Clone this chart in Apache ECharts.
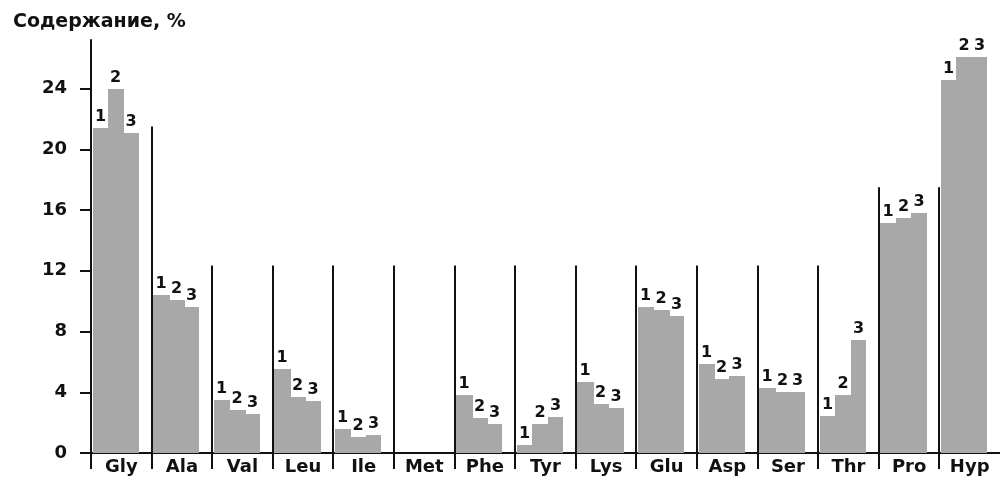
<!DOCTYPE html>
<html><head><meta charset="utf-8">
<script src="https://cdn.jsdelivr.net/npm/echarts@6/dist/echarts.min.js"></script>
<style>html,body{margin:0;padding:0;background:#fff}#c{width:1000px;height:482px}</style>
</head><body><div id="c"></div>
<script>
const categories = ['Gly','Ala','Val','Leu','Ile','Met','Phe','Tyr','Lys','Glu','Asp','Ser','Thr','Pro','Hyp'];
const sample1 = [21.4, 10.4, 3.5, 5.5, 1.6, null, 3.8, 0.5, 4.7, 9.6, 5.85, 4.3, 2.45, 15.15, 24.55];
const sample2 = [24.0, 10.1, 2.8, 3.7, 1.05, null, 2.3, 1.9, 3.25, 9.4, 4.85, 4.0, 3.8, 15.5, 26.05];
const sample3 = [21.1, 9.6, 2.55, 3.45, 1.2, null, 1.9, 2.4, 2.95, 9.05, 5.05, 4.0, 7.45, 15.8, 26.05];
const sampleLabels = ['1', '2', '3'];
const dividerTops = [27.2, 21.5, 12.35, 12.35, 12.35, 12.35, 12.35, 12.35, 12.35, 12.35, 12.35, 12.35, 12.35, 17.5, 17.5];
const yTicks = [0, 4, 8, 12, 16, 20, 24];
const yTitle = 'Содержание, %';

const FONT = '"DejaVu Sans", "Liberation Sans", sans-serif';
const INK = '#111';
const BAR = '#a8a8a8';

function barSeries(k, data) {
  return {
    type: 'custom',
    z: 2,
    data: data.map((v, i) => [i, v == null ? '-' : v]),
    encode: { x: 0, y: 1 },
    renderItem(params, api) {
      const i = api.value(0), v = api.value(1);
      if (v == null || isNaN(v)) return;
      const cellW = api.size([1, 0])[0];
      const top = api.coord([i, v]);
      const base = api.coord([i, 0]);
      const bw = cellW * 0.255;
      const xl = Math.round(top[0] - cellW / 2 + 1.5 + k * bw);
      const xr = Math.round(top[0] - cellW / 2 + 1.5 + (k + 1) * bw);
      const yt = Math.round(top[1]);
      return {
        type: 'group',
        children: [
          { type: 'rect', shape: { x: xl, y: yt, width: xr - xl + (k < 2 ? 1 : 0), height: base[1] - yt },
            style: { fill: BAR } },
          { type: 'text', x: (xl + xr) / 2, y: yt - 3,
            style: { text: sampleLabels[k], textAlign: 'center', textVerticalAlign: 'bottom',
              align: 'center', verticalAlign: 'bottom',
              fontFamily: FONT, fontWeight: 'bold', fontSize: 16, fill: INK } }
        ]
      };
    }
  };
}

const chart = echarts.init(document.getElementById('c'), null, { renderer: 'canvas' });
chart.setOption({
  animation: false,
  backgroundColor: '#fff',
  title: {
    text: yTitle, left: 8, top: 8,
    textStyle: { fontFamily: FONT, fontWeight: 'bold', fontSize: 19, color: INK }
  },
  grid: { left: 91, right: 0, top: 40, bottom: 29, containLabel: false },
  xAxis: {
    type: 'category', data: categories, boundaryGap: true,
    axisLine: { show: true, lineStyle: { color: INK, width: 2 } },
    axisTick: { show: false },
    axisLabel: { margin: 5, fontFamily: FONT, fontWeight: 'bold', fontSize: 18, color: INK, interval: 0 },
    splitLine: { show: false }
  },
  yAxis: {
    type: 'value', min: 0, max: 27.2, interval: 4,
    axisLine: { show: true, lineStyle: { color: INK, width: 2 } },
    axisTick: { show: true, length: 11, inside: false, customValues: yTicks, lineStyle: { color: INK, width: 2 } },
    axisLabel: { margin: 24, customValues: yTicks, fontFamily: FONT, fontWeight: 'bold', fontSize: 18, color: INK },
    splitLine: { show: false }
  },
  series: [
    barSeries(0, sample1),
    barSeries(1, sample2),
    barSeries(2, sample3),
    {
      type: 'custom', z: 3,
      data: dividerTops.map((v, i) => [i, v]),
      encode: { x: 0, y: 1 },
      renderItem(params, api) {
        const i = api.value(0), v = api.value(1);
        const cellW = api.size([1, 0])[0];
        const top = api.coord([i, v]);
        const base = api.coord([i, 0]);
        const x = Math.round(top[0] - cellW / 2);
        return { type: 'line', shape: { x1: x, y1: base[1] + 16, x2: x, y2: top[1] },
          style: { stroke: INK, lineWidth: 2 } };
      }
    }
  ]
});
</script></body></html>
